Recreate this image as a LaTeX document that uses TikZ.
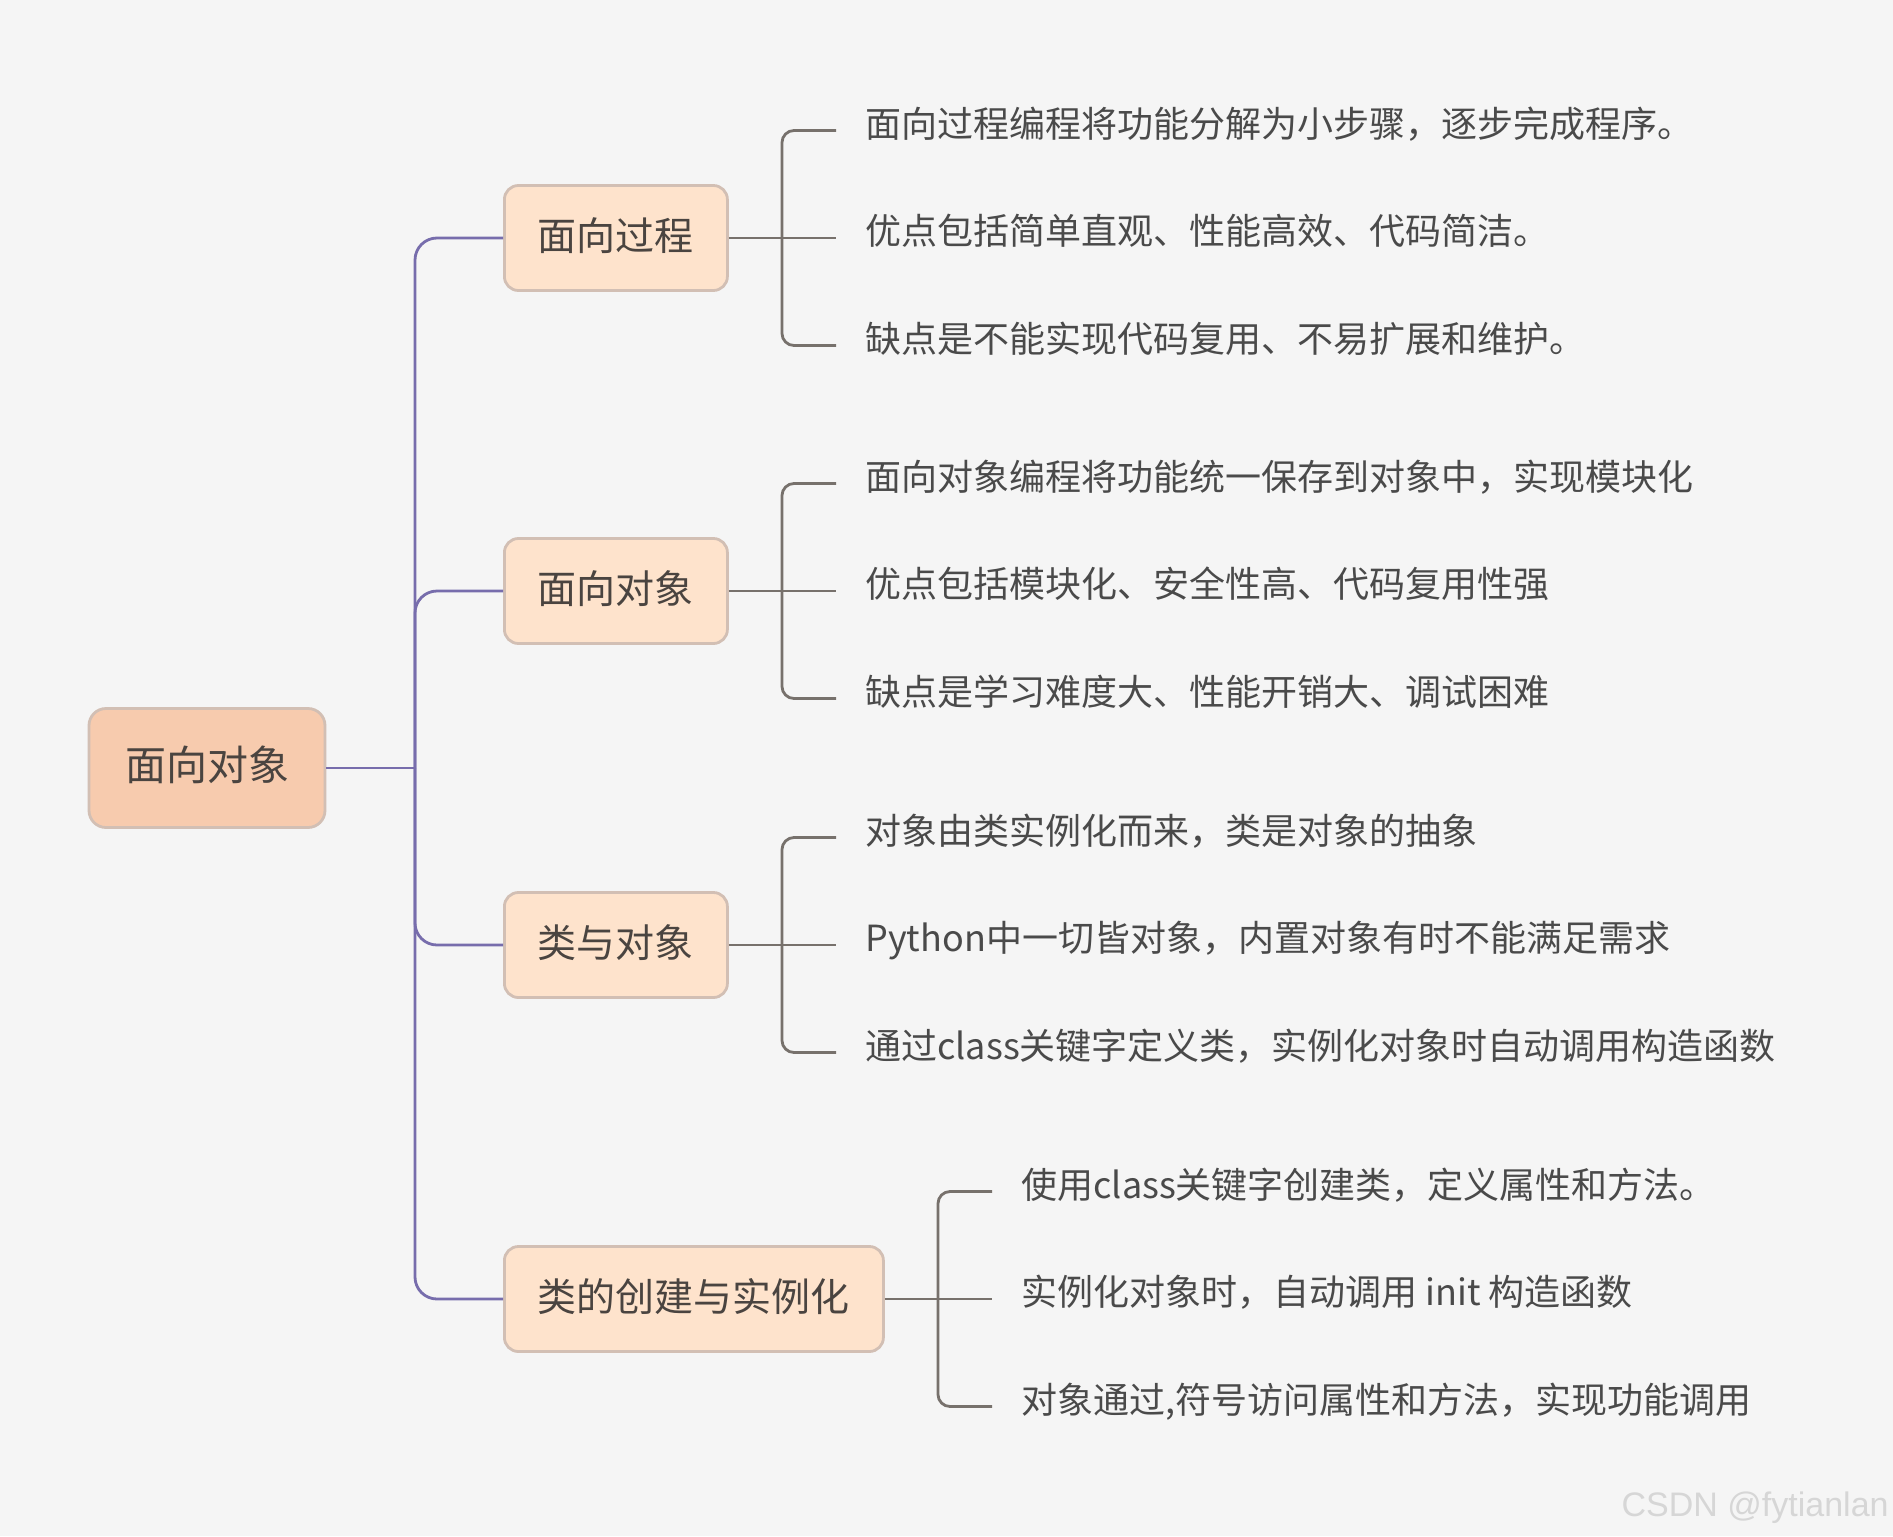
\documentclass[tikz,border=0pt]{standalone}
\usepackage{fontspec}
\setmainfont{Noto Sans CJK SC}
\newfontfamily\wmfont{Liberation Sans}
\definecolor{bgc}{HTML}{F5F5F5}
\definecolor{rootc}{HTML}{F7CBAE}
\definecolor{topc}{HTML}{FEE3CC}
\definecolor{bordc}{HTML}{D2BFB4}
\definecolor{txtc}{HTML}{4A4440}
\definecolor{leafc}{HTML}{4A4A4A}
\definecolor{purp}{HTML}{776DAC}
\definecolor{twigc}{HTML}{77716C}
\definecolor{wmc}{HTML}{D6D6D6}
\tikzset{
  rootbox/.style={draw=bordc, fill=rootc, line width=1.4pt, rounded corners=8.5pt,
    minimum width=118pt, minimum height=59.5pt, inner sep=0pt,
    font=\fontsize{20.5}{24}\selectfont, text=txtc, text height=1.32em, text depth=0.04em},
  topicbox/.style={draw=bordc, fill=topc, line width=1.4pt, rounded corners=7pt,
    minimum height=52.5pt, inner xsep=16.75pt, inner ysep=0pt, anchor=west,
    font=\fontsize{19.5}{23}\selectfont, text=txtc, text height=1.3em, text depth=0.04em},
  leaf/.style={anchor=west, inner xsep=14.5pt, inner ysep=0pt,
    font=\fontsize{18}{22}\selectfont, text=leafc, text height=12pt, text depth=5.3pt},
  trunk/.style={draw=purp, line width=1.4pt, rounded corners=11pt},
  twig/.style={draw=twigc, line width=1.4pt, rounded corners=6pt},
}
\begin{document}
\begin{tikzpicture}[x=0.5pt,y=-0.5pt]
\fill[bgc] (0,0) rectangle (1893,1536);
\useasboundingbox (0,0) rectangle (1893,1536);

\node[rootbox] (root) at (207,768) {面向对象};
\coordinate (hub) at (415,768);

\node[topicbox] (t1) at (503,238) {面向过程};
\node[topicbox] (t2) at (503,591) {面向对象};
\node[topicbox] (t3) at (503,945) {类与对象};
\node[topicbox] (t4) at (503,1299) {类的创建与实例化};

\coordinate (j1) at (782,238);
\coordinate (j2) at (782,591);
\coordinate (j3) at (782,945);
\coordinate (j4) at (938,1299);

\node[leaf] (l11) at (836,130.5) {面向过程编程将功能分解为小步骤，逐步完成程序。};
\node[leaf] (l12) at (836,238) {优点包括简单直观、性能高效、代码简洁。};
\node[leaf] (l13) at (836,345.5) {缺点是不能实现代码复用、不易扩展和维护。};

\node[leaf] (l21) at (836,483.5) {面向对象编程将功能统一保存到对象中，实现模块化};
\node[leaf] (l22) at (836,591) {优点包括模块化、安全性高、代码复用性强};
\node[leaf] (l23) at (836,698.5) {缺点是学习难度大、性能开销大、调试困难};

\node[leaf] (l31) at (836,837.5) {对象由类实例化而来，类是对象的抽象};
\node[leaf] (l32) at (836,945) {Python中一切皆对象，内置对象有时不能满足需求};
\node[leaf] (l33) at (836,1052.5) {通过class关键字定义类，实例化对象时自动调用构造函数};

\node[leaf] (l41) at (992,1191.5) {使用class关键字创建类，定义属性和方法。};
\node[leaf] (l42) at (992,1299) {实例化对象时，自动调用 init 构造函数};
\node[leaf] (l43) at (992,1406.5) {对象通过,符号访问属性和方法，实现功能调用};

\draw[trunk] (root.east) -- (hub);
\foreach \t in {t1,t2,t3,t4} { \draw[trunk] (hub) |- (\t.west); }

\foreach \g/\j in {1/j1,2/j2,3/j3,4/j4} {
  \draw[twig] (t\g.east) -- (\j);
  \draw[twig] (\j) |- (l\g1.west);
  \draw[twig] (\j) -- (l\g2.west);
  \draw[twig] (\j) |- (l\g3.west);
}

\node[anchor=east, inner sep=0pt, font=\wmfont\fontsize{17}{20}\selectfont, text=wmc] (wm) at (1889,1508) {CSDN @fytianlan};
\end{tikzpicture}
\end{document}
